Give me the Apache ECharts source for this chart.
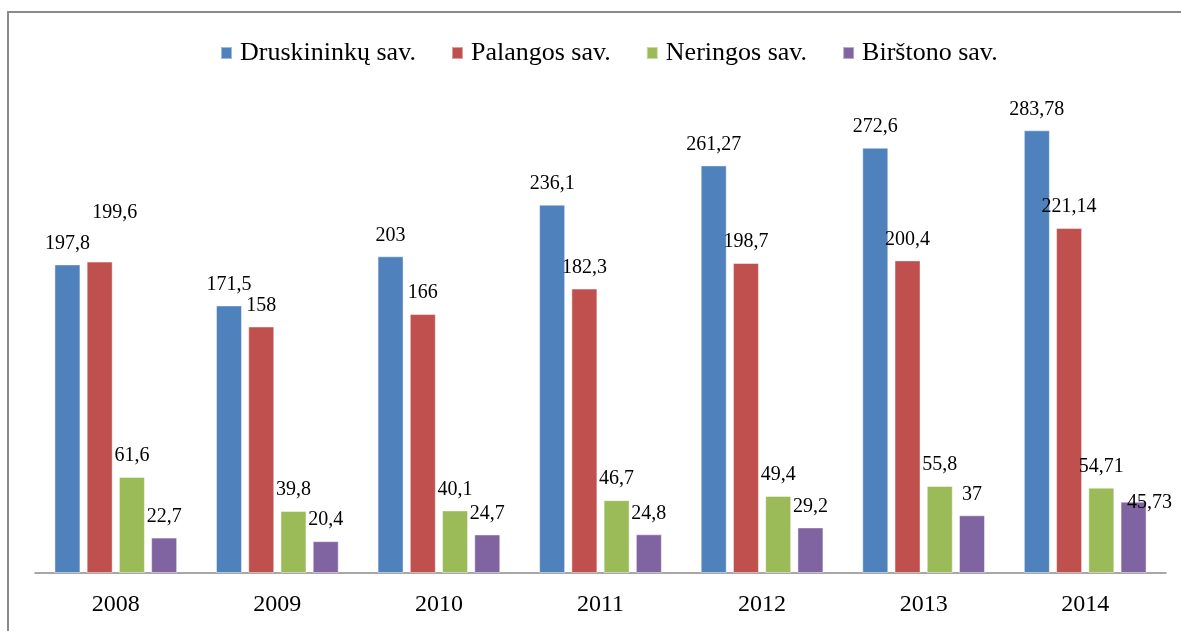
<!DOCTYPE html>
<html>
<head>
<meta charset="utf-8">
<script src="https://cdn.jsdelivr.net/npm/echarts@6/dist/echarts.min.js"></script>
<style>
  html, body { margin: 0; padding: 0; background: #fff; }
  #chart { width: 1181px; height: 631px; }
</style>
</head>
<body>
<div id="chart"></div>
<script>
// data
var years = ["2008", "2009", "2010", "2011", "2012", "2013", "2014"];
var seriesNames = ["Druskininkų sav.", "Palangos sav.", "Neringos sav.", "Birštono sav."];
var druskininkai = [197.8, 171.5, 203, 236.1, 261.27, 272.6, 283.78];
var palanga = [199.6, 158, 166, 182.3, 198.7, 200.4, 221.14];
var neringa = [61.6, 39.8, 40.1, 46.7, 49.4, 55.8, 54.71];
var birstonas = [22.7, 20.4, 24.7, 24.8, 29.2, 37, 45.73];

var colors = ["#4F81BD", "#C0504D", "#9BBB59", "#8064A2"];
var font = "'Liberation Serif', 'Times New Roman', serif";

// a couple of labels are nudged in the original to avoid overlaps: "series:index" -> [dx, dy]
var labelNudge = { "1:0": [15, -28], "3:6": [16, 22] };

var chart = echarts.init(document.getElementById("chart"));

var makeSeries = function(name, values, idx) {
    return {
        name: name,
        type: "bar",
        barWidth: 26,
        barGap: "24%",
        itemStyle: {
            color: colors[idx],
            borderColor: "rgba(255,255,255,0.45)",
            borderWidth: 1
        },
        label: {
            show: true,
            position: "top",
            distance: 11,
            color: "#000",
            fontFamily: font,
            fontSize: 20,
            formatter: function(p) {
                return String(p.value).replace(".", ",");
            }
        },
        data: values.map(function(v, i) {
            var n = labelNudge[idx + ":" + i];
            if (!n) return v;
            return { value: v, label: { offset: n } };
        })
    };
};

var option = {
    animation: false,
    backgroundColor: "#fff",
    graphic: [{
        type: "rect",
        shape: { x: 8, y: 12, width: 1300, height: 800 },
        style: { fill: "none", stroke: "#8a8a8a", lineWidth: 2 },
        silent: true
    }],
    legend: {
        left: 215,
        top: 35,
        itemWidth: 11,
        itemHeight: 12,
        itemGap: 35,
        icon: "rect",
        textStyle: {
            fontFamily: font,
            fontSize: 26,
            color: "#000",
            padding: [0, 0, 0, 3]
        },
        data: seriesNames
    },
    grid: {
        left: 35,
        right: 15,
        top: 105,
        bottom: 58,
        containLabel: false
    },
    xAxis: {
        type: "category",
        data: years,
        axisTick: { show: false },
        axisLine: { lineStyle: { color: "#8a8a8a", width: 1.5 } },
        axisLabel: {
            color: "#000",
            fontFamily: font,
            fontSize: 24,
            margin: 20
        }
    },
    yAxis: {
        type: "value",
        min: 0,
        max: 300,
        show: false,
        splitLine: { show: false }
    },
    series: [
        makeSeries(seriesNames[0], druskininkai, 0),
        makeSeries(seriesNames[1], palanga, 1),
        makeSeries(seriesNames[2], neringa, 2),
        makeSeries(seriesNames[3], birstonas, 3)
    ]
};

chart.setOption(option);
</script>
</body>
</html>
